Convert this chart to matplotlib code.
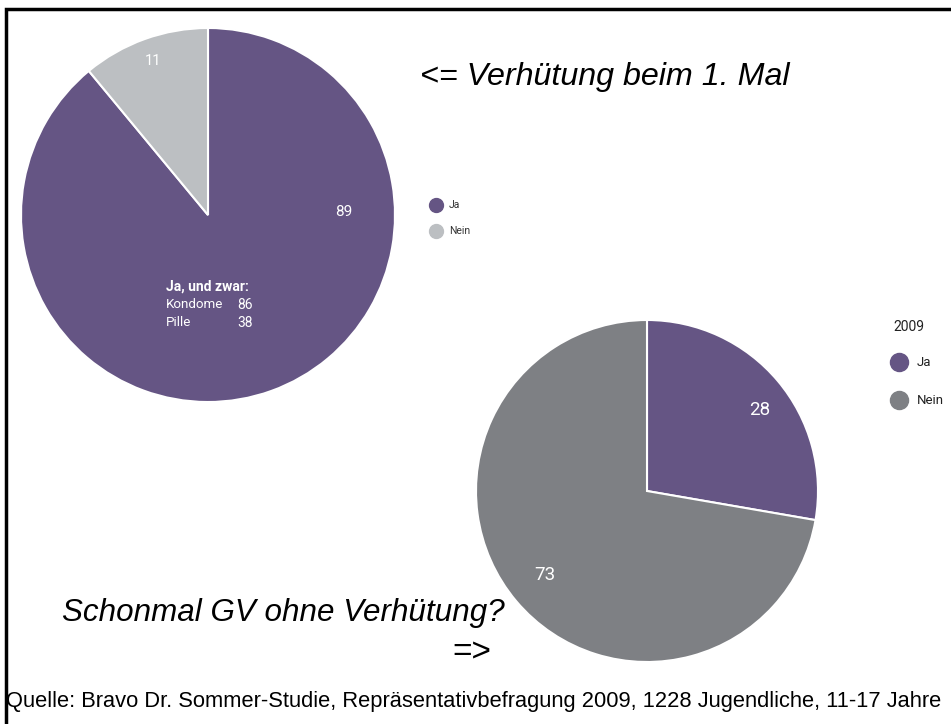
"""
Zwei Kreisdiagramme zur Verhütung bei Jugendlichen (Bravo Dr. Sommer-Studie 2009).
"""
import matplotlib
matplotlib.use("Agg")
import matplotlib.pyplot as plt

# Verhütung beim 1. Mal
first_labels = ["Ja", "Nein"]
first_values = [89, 11]
first_detail = [("Kondome", 86), ("Pille", 38)]

# Schonmal GV ohne Verhütung? (2009)
second_labels = ["Ja", "Nein"]
second_values = [28, 73]
second_year = "2009"

PURPLE = "#655584"
LIGHT_GREY = "#bcbfc2"
DARK_GREY = "#7e8084"
LABEL_FONT = "Roboto"
TEXT_FONT = "Liberation Sans"

W, H = 951, 724
fig = plt.figure(figsize=(W / 100, H / 100), dpi=100)
ax = fig.add_axes([0, 0, 1, 1])


def draw_pie(values, colors, center, radius):
    # y axis gets inverted below, so counterclock=True turns clockwise on screen
    wedges, _ = ax.pie(values, colors=colors, startangle=-90, counterclock=True,
                       center=center, radius=radius, frame=True,
                       wedgeprops=dict(edgecolor="white", linewidth=1.5))
    return wedges


draw_pie(first_values, [PURPLE, LIGHT_GREY], (208, 215), 187)
draw_pie(second_values, [PURPLE, DARK_GREY], (647, 491), 171)
ax.set_xlim(0, W)
ax.set_ylim(H, 0)
ax.set_aspect("equal")
ax.axis("off")

# frame (top and left edge only)
ax.plot([6, 6, W], [H, 9, 9], color="black", lw=2.5, solid_joinstyle="miter")

lab = dict(color="white", family=LABEL_FONT, ha="center", va="center")
ax.text(344, 212, str(first_values[0]), fontsize=11, **lab)
ax.text(153, 61, str(first_values[1]), fontsize=10.5, **lab)
ax.text(760, 410, str(second_values[0]), fontsize=13.5, **lab)
ax.text(545, 575, str(second_values[1]), fontsize=13.5, **lab)

ax.text(166, 287, "Ja, und zwar:", color="white", family=LABEL_FONT,
        fontsize=10, fontweight="bold", va="center")
for i, (name, val) in enumerate(first_detail):
    y = 305 + i * 18
    ax.text(166, y, name, color="white", family=LABEL_FONT, fontsize=9.6, va="center")
    ax.text(253, y, str(val), color="white", family=LABEL_FONT, fontsize=10,
            ha="right", va="center")

# legends
for i, (name, col) in enumerate(zip(first_labels, [PURPLE, LIGHT_GREY])):
    y = 205 + i * 26
    ax.plot(436, y, "o", ms=10, color=col)
    ax.text(449, y, name, fontsize=7.5, family=LABEL_FONT, color="#333333", va="center")

ax.text(893, 327, second_year, fontsize=10, family=LABEL_FONT, color="#222222", va="center")
for i, (name, col) in enumerate(zip(second_labels, [PURPLE, DARK_GREY])):
    y = 362 + i * 38
    ax.plot(899, y, "o", ms=13, color=col)
    ax.text(917, y, name, fontsize=9.5, family=LABEL_FONT, color="#222222", va="center")

ax.text(420, 77, "<= Verhütung beim 1. Mal", fontsize=23.2, style="italic",
        family=TEXT_FONT, va="center")
ax.text(62, 613, "Schonmal GV ohne Verhütung?", fontsize=22.6, style="italic",
        family=TEXT_FONT, va="center")
ax.text(452, 653, "=>", fontsize=24, family=TEXT_FONT, va="center")
ax.text(6, 702, "Quelle: Bravo Dr. Sommer-Studie, Repräsentativbefragung 2009, "
        "1228 Jugendliche, 11-17 Jahre", fontsize=15.75, family=TEXT_FONT, va="center")

fig.savefig("out.png", dpi=100)
